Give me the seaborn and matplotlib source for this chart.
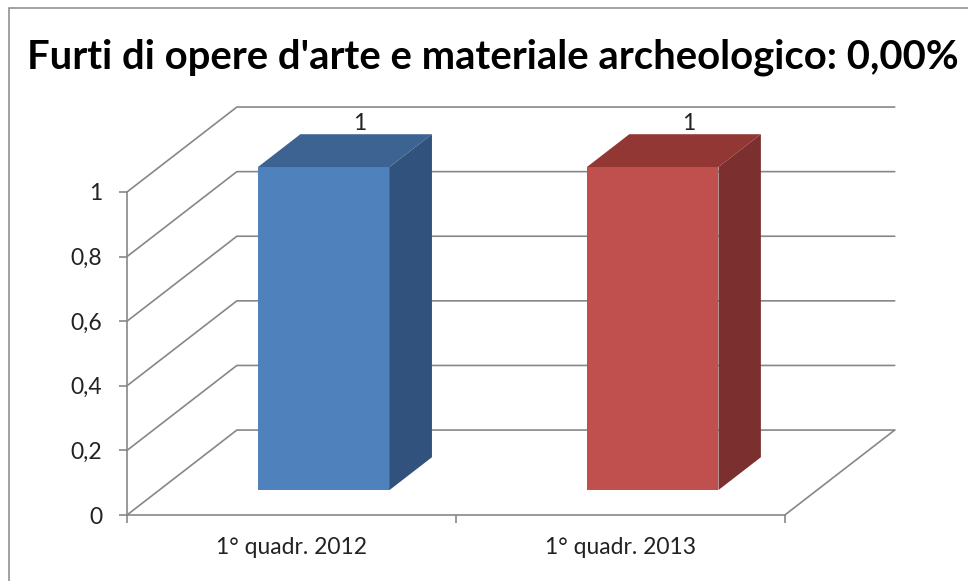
import numpy as np
import pandas as pd
import matplotlib
matplotlib.use("Agg")
import matplotlib.pyplot as plt
from matplotlib.patches import Polygon, Rectangle
import seaborn as sns

# data
categories = ["1° quadr. 2012", "1° quadr. 2013"]
values = [1, 1]
yticks = [0, 0.2, 0.4, 0.6, 0.8, 1]
ytick_labels = ["0", "0,2", "0,4", "0,6", "0,8", "1"]
title = "Furti di opere d'arte e materiale archeologico: 0,00%"

front_colors = ["#4F81BD", "#C0504D"]
top_colors = ["#3C6392", "#933735"]
side_colors = ["#30527C", "#7B2F2E"]
grid_color = "#878787"

# fake 3d: depth offset of the back wall in data units
DX, DY = 0.334, 0.263
f0, f1 = 0.294, 0.68   # bar front / back depth

sns.set_theme(style="white")
plt.rcParams["font.family"] = ["Lato", "DejaVu Sans"]

fig = plt.figure(figsize=(9.68, 5.81), dpi=100)
ax = fig.add_axes([127 / 968, 66 / 581, 771 / 968, 407 / 581])

df = pd.DataFrame({"periodo": categories, "furti": values})
sns.barplot(data=df, x="periodo", y="furti", hue="periodo", palette=front_colors,
            width=0.4, legend=False, ax=ax, zorder=3, linewidth=0, saturation=1)

n = len(categories)
x_left, x_right = -0.5, n - 0.5

# walls: gridlines on left wall + back wall, floor edge on the right
for v in yticks:
    ax.plot([x_left, x_left + DX, x_right + DX], [v, v + DY, v + DY],
            color=grid_color, lw=1.2, zorder=1, clip_on=False)
ax.plot([x_right, x_right + DX], [0, DY], color=grid_color, lw=1.2, zorder=1, clip_on=False)

# shift front faces into depth and add top/side faces
d = f1 - f0
for i, p in enumerate(ax.patches):
    x0 = p.get_x() + f0 * DX
    y0 = f0 * DY
    w, h = p.get_width(), p.get_height()
    p.set_x(x0)
    p.set_y(y0)
    top = [(x0, y0 + h), (x0 + w, y0 + h),
           (x0 + w + d * DX, y0 + h + d * DY), (x0 + d * DX, y0 + h + d * DY)]
    side = [(x0 + w, y0), (x0 + w + d * DX, y0 + d * DY),
            (x0 + w + d * DX, y0 + h + d * DY), (x0 + w, y0 + h)]
    ax.add_patch(Polygon(top, closed=True, color=top_colors[i], zorder=3, lw=0))
    ax.add_patch(Polygon(side, closed=True, color=side_colors[i], zorder=3, lw=0))
    ax.annotate(str(values[i]), (x0 + w / 2 + 0.85 * d * DX, y0 + h + d * DY),
                xytext=(0, 0), textcoords="offset points",
                ha="center", va="bottom", fontsize=16.5, color="#222222")

ax.set_xlim(x_left, x_right + DX + 0.01)
ax.set_ylim(0, 1 + DY - 0.003)

# axes
for s in ["top", "right"]:
    ax.spines[s].set_visible(False)
for s in ["left", "bottom"]:
    ax.spines[s].set_color(grid_color)
    ax.spines[s].set_linewidth(1.2)
ax.spines["left"].set_bounds(0, 1)
ax.spines["bottom"].set_bounds(x_left, x_right)

ax.set_yticks(yticks, ytick_labels)
ax.set_xticks(np.arange(n + 1) - 0.5, [""] * (n + 1))
ax.set_xticks(np.arange(n), categories, minor=True)
ax.tick_params(axis="y", length=6, width=1.2, color=grid_color, direction="out",
               left=True, pad=12, labelsize=16.5, labelcolor="#222222")
ax.tick_params(axis="x", which="major", length=6, width=1.2, color=grid_color,
               direction="out", bottom=True)
ax.tick_params(axis="x", which="minor", length=0, pad=16, labelsize=16.5,
               labelcolor="#222222")
ax.set_xlabel("")
ax.set_ylabel("")
ax.patch.set_alpha(0)

fig.text(493 / 968, 1 - 68 / 581, title, ha="center", va="baseline",
         fontsize=28.8, fontweight="bold", color="black")

# chart border (left and top edges visible)
fig.add_artist(Rectangle((9 / 968, -0.1), 2, 1.1 - 8 / 581, transform=fig.transFigure,
                         fill=False, edgecolor="#888888", lw=1.1))

fig.savefig("out.png", dpi=100)
